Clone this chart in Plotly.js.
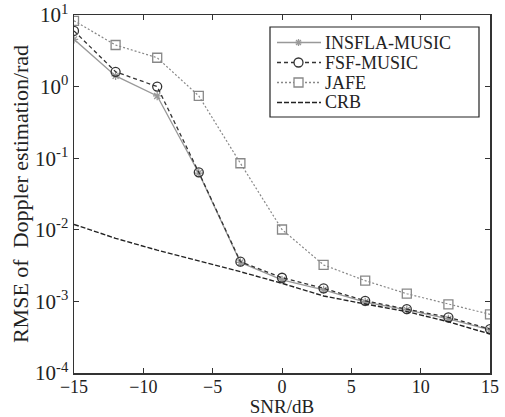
<!DOCTYPE html>
<html><head><meta charset="utf-8">
<script src="https://cdn.plot.ly/plotly-3.0.1.min.js"></script>
<style>html,body{margin:0;padding:0;background:#fff}#chart{width:505px;height:417px}</style>
</head><body><div id="chart"></div>
<script>
const snr = [-15, -12, -9, -6, -3, 0, 3, 6, 9, 12, 15];
const insfla = [4.57, 1.41, 0.74, 0.062, 0.0035, 0.0020, 0.00145, 0.00098, 0.00076, 0.00057, 0.00040];
const fsf = [6.0, 1.61, 1.0, 0.0635, 0.00359, 0.00214, 0.00152, 0.00102, 0.00078, 0.0006, 0.00041];
const jafe = [8.3, 3.81, 2.53, 0.74, 0.085, 0.0101, 0.00323, 0.00195, 0.00128, 0.00091, 0.00066];
const crb = [0.0119, 0.0076, 0.0052, 0.0037, 0.0026, 0.00179, 0.00119, 0.00092, 0.00072, 0.00052, 0.00035];
const names = ['INSFLA-MUSIC', 'FSF-MUSIC', 'JAFE', 'CRB'];
const yTickVals = [1e-4, 1e-3, 1e-2, 1e-1, 1, 10];
const yTickText = ['10<sup>-4</sup>', '10<sup>-3</sup>', '10<sup>-2</sup>', '10<sup>-1</sup>', '10<sup>0</sup>', '10<sup>1</sup>'];
const xTickVals = [-15, -10, -5, 0, 5, 10, 15];

const FAM = 'Liberation Serif, Times New Roman, serif';
const f = (s) => ({family: FAM, size: s, color: '#222'});
const colors = ['#999', '#333', '#888', '#222'];
const dashes = ['solid', '4px,3px', '2px,2px', '5px,2px'];

const traces = [
  {x: snr, y: insfla, name: names[0], mode: 'lines+markers',
   line: {color: colors[0], width: 1.3, dash: dashes[0]},
   marker: {symbol: 'asterisk-open', size: 7, color: colors[0], line: {color: colors[0], width: 1.3}}},
  {x: snr, y: fsf, name: names[1], mode: 'lines+markers',
   line: {color: colors[1], width: 1.3, dash: dashes[1]},
   marker: {symbol: 'circle-open', size: 9, color: colors[1], line: {color: colors[1], width: 1.3}}},
  {x: snr, y: jafe, name: names[2], mode: 'lines+markers',
   line: {color: colors[2], width: 1.2, dash: dashes[2]},
   marker: {symbol: 'square-open', size: 9, color: colors[2], line: {color: colors[2], width: 1.3}}},
  {x: snr, y: crb, name: names[3], mode: 'lines',
   line: {color: colors[3], width: 1.4, dash: dashes[3]}}
];

// custom compact legend (layout decoration, pixel positions -> paper coords)
const M = {l: 74, r: 15, t: 15, b: 44};
const W = 505, H = 417;
const pw = W - M.l - M.r, ph = H - M.t - M.b;
const px = (x) => (x - M.l) / pw;
const py = (y) => 1 - (y - M.t) / ph;
const rowsY = [42.5, 62.5, 82.5, 102.5];
const shapes = [
  {type: 'rect', xref: 'paper', yref: 'paper', x0: px(270), x1: px(479), y0: py(117), y1: py(27),
   line: {color: '#222', width: 1.2}, fillcolor: '#fff', layer: 'above'}
];
const annotations = [];
rowsY.forEach((ry, i) => {
  shapes.push({type: 'line', xref: 'paper', yref: 'paper', x0: px(277), x1: px(321), y0: py(ry), y1: py(ry),
    line: {color: colors[i], width: i === 3 ? 1.4 : 1.3, dash: dashes[i]}, layer: 'above'});
  const cx = 298.5;
  if (i === 0) {
    const r = 3.5;
    shapes.push({type: 'path', xref: 'paper', yref: 'paper', layer: 'above',
      path: `M${px(cx)},${py(ry - r)}L${px(cx)},${py(ry + r)}M${px(cx - r)},${py(ry)}L${px(cx + r)},${py(ry)}` +
            `M${px(cx - r * 0.7)},${py(ry - r * 0.7)}L${px(cx + r * 0.7)},${py(ry + r * 0.7)}` +
            `M${px(cx - r * 0.7)},${py(ry + r * 0.7)}L${px(cx + r * 0.7)},${py(ry - r * 0.7)}`,
      line: {color: colors[0], width: 1.3}});
  } else if (i === 1) {
    shapes.push({type: 'circle', xref: 'paper', yref: 'paper', layer: 'above',
      x0: px(cx - 4.5), x1: px(cx + 4.5), y0: py(ry + 4.5), y1: py(ry - 4.5),
      line: {color: colors[1], width: 1.3}, fillcolor: '#fff'});
  } else if (i === 2) {
    shapes.push({type: 'rect', xref: 'paper', yref: 'paper', layer: 'above',
      x0: px(cx - 4.5), x1: px(cx + 4.5), y0: py(ry + 4.5), y1: py(ry - 4.5),
      line: {color: colors[2], width: 1.3}, fillcolor: '#fff'});
  }
  annotations.push({xref: 'paper', yref: 'paper', x: px(324), y: py(ry), xanchor: 'left', yanchor: 'middle',
    text: names[i], showarrow: false, font: f(18), borderpad: 0});
});

const layout = {
  width: W, height: H,
  margin: M,
  paper_bgcolor: '#fff', plot_bgcolor: '#fff',
  font: f(18),
  showlegend: false,
  shapes: shapes,
  annotations: annotations,
  xaxis: {range: [-15, 15], tickvals: xTickVals, ticks: 'inside', ticklen: 5,
    tickcolor: '#333', showline: true, linecolor: '#333', linewidth: 1.5, mirror: 'ticks',
    showgrid: false, zeroline: false, tickfont: f(18), ticklabelstandoff: -3,
    title: {text: 'SNR/dB', font: f(19), standoff: 0}},
  yaxis: {type: 'log', range: [-4, 1], tickvals: yTickVals, ticktext: yTickText,
    ticks: 'inside', ticklen: 5, tickcolor: '#333', showline: true, linecolor: '#333',
    linewidth: 1.5, mirror: 'ticks', showgrid: false, zeroline: false,
    tickfont: f(21),
    title: {text: 'RMSE of&nbsp; Doppler estimation/rad', font: f(22), standoff: 0}}
};
Plotly.newPlot('chart', traces, layout, {displayModeBar: false, staticPlot: true});
</script></body></html>
